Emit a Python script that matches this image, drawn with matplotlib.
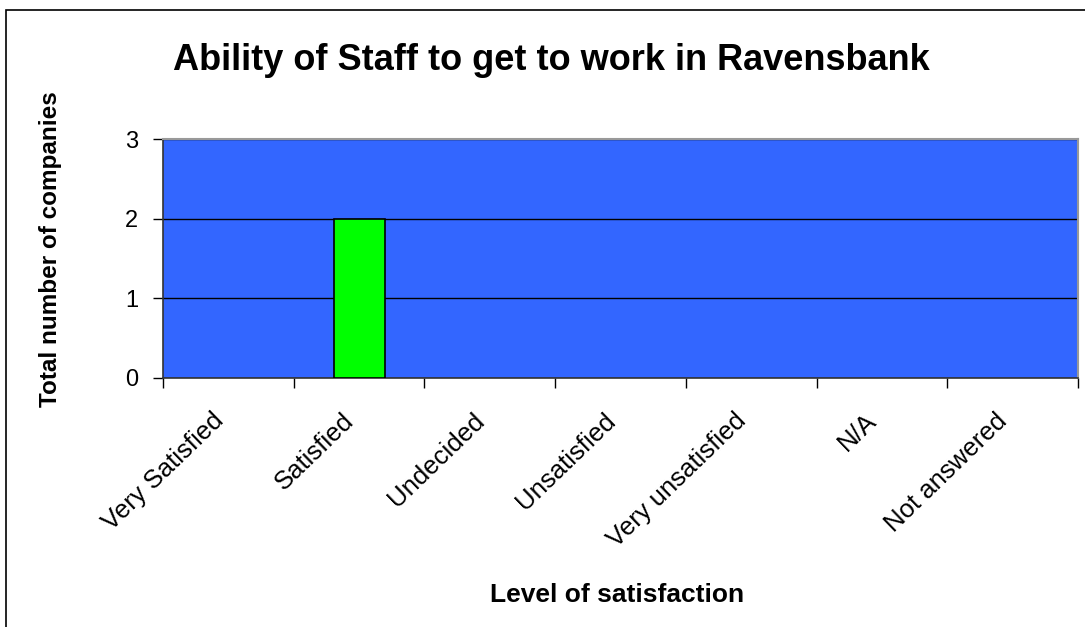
import matplotlib
matplotlib.use("Agg")
import matplotlib.pyplot as plt
import matplotlib.transforms as mtransforms
from matplotlib.patches import Rectangle
import numpy as np

# Dados do gráfico
categorias = ["Very Satisfied", "Satisfied", "Undecided", "Unsatisfied",
              "Very unsatisfied", "N/A", "Not answered"]
valores = [0, 2, 0, 0, 0, 0, 0]
y_ticks = [0, 1, 2, 3]

plt.rcParams["font.family"] = ["Liberation Sans", "DejaVu Sans"]

fig = plt.figure(figsize=(10.85, 6.27), dpi=100)
ax = fig.add_axes([163 / 1085, 1 - 378 / 627, (1078 - 163) / 1085, (378 - 139) / 627])

# moldura externa do gráfico
fig.patches.append(Rectangle((6 / 1085, -0.05), 1.2, 1 - 10 / 627 + 0.05,
                             transform=fig.transFigure, fill=False,
                             edgecolor="black", linewidth=1.2))

ax.set_facecolor("#3366FF")
x = np.arange(len(categorias))
bordas = ["black" if v > 0 else "none" for v in valores]
ax.bar(x, valores, width=0.39, color="#00FF00", edgecolor=bordas,
       linewidth=1.2, zorder=3)

ax.set_xlim(-0.5, len(categorias) - 0.5)
ax.set_ylim(0, 3)
ax.set_yticks(y_ticks)
ax.set_yticklabels([str(v) for v in y_ticks], fontsize=17)
ax.yaxis.grid(True, color="black", linewidth=1.0, zorder=1)
ax.set_axisbelow(True)

ax.set_xticks(x)
ax.set_xticklabels(categorias, rotation=44, ha="right", va="top",
                   rotation_mode="anchor", fontsize=18.5)
ax.tick_params(axis="x", which="major", length=0, pad=22)
desloc = mtransforms.ScaledTranslation(-0.17, 0, fig.dpi_scale_trans)
for rot in ax.get_xticklabels():
    rot.set_transform(rot.get_transform() + desloc)
ax.set_xticks(np.arange(-0.5, len(categorias)), minor=True)
ax.tick_params(axis="x", which="minor", length=7, width=1, color="black")
ax.tick_params(axis="y", length=7, width=1, color="black", pad=11)

for lado in ["top", "right"]:
    ax.spines[lado].set_color("#999999")
    ax.spines[lado].set_linewidth(1.5)
for lado in ["left", "bottom"]:
    ax.spines[lado].set_color("#333333")
    ax.spines[lado].set_linewidth(1.2)

ax.set_ylabel("Total number of companies", fontsize=17.5, fontweight="bold")
ax.set_xlabel("Level of satisfaction", fontsize=19, fontweight="bold")
ax.xaxis.set_label_coords((617 - 163) / (1078 - 163), -(583 - 378) / (378 - 139))
ax.yaxis.set_label_coords(-(163 - 62) / (1078 - 163), (378 - 249) / (378 - 139))

fig.text(551 / 1085, 1 - 60 / 627, "Ability of Staff to get to work in Ravensbank",
         ha="center", va="center", fontsize=26, fontweight="bold")

fig.savefig("out.png", dpi=100)
